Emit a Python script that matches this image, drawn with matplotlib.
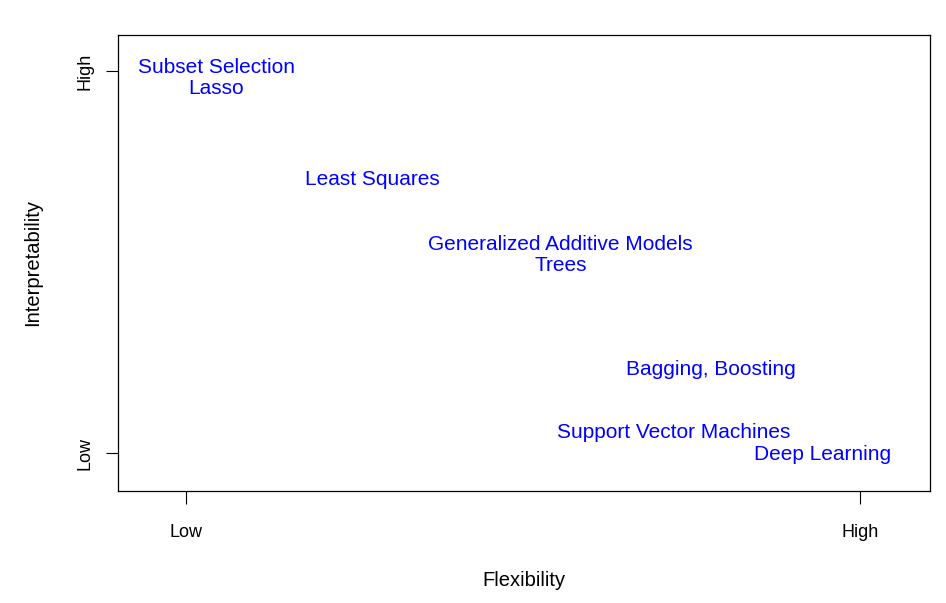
import matplotlib
matplotlib.use('Agg')
import matplotlib.pyplot as plt

plt.rcParams['font.family'] = ['Liberation Sans', 'DejaVu Sans']

# Métodos y su posición (flexibilidad, interpretabilidad)
metodos = ['Subset Selection', 'Lasso', 'Least Squares',
           'Generalized Additive Models', 'Trees', 'Bagging, Boosting',
           'Support Vector Machines', 'Deep Learning']
flexibilidad = [0.45, 0.45, 2.77, 5.55, 5.56, 7.79, 7.23, 9.45]
interpretabilidad = [10.15, 9.6, 7.2, 5.52, 4.95, 2.23, 0.58, 0.03]

tick_pos = [0, 10]
tick_lbl = ['Low', 'High']

fig = plt.figure(figsize=(9.46, 6.03), dpi=100)
ax = fig.add_axes([118 / 946, 1 - 491 / 603, 812 / 946, 456 / 603])

for m, x, y in zip(metodos, flexibilidad, interpretabilidad):
    ax.text(x, y, m, color='blue', fontsize=15, ha='center', va='center_baseline')

ax.set_xlim(-1.01, 11.04)
ax.set_ylim(-0.99, 10.94)

ax.set_xticks(tick_pos)
ax.set_xticklabels(tick_lbl)
ax.set_yticks(tick_pos)
ax.set_yticklabels(tick_lbl, rotation=90, va='center')
ax.tick_params(axis='x', length=9, width=0.8, pad=14.5, labelsize=13)
ax.tick_params(axis='y', length=9, width=0.8, pad=9, labelsize=13)

for s in ax.spines.values():
    s.set_linewidth(0.9)

ax.set_xlabel('Flexibility', fontsize=14.5)
ax.set_ylabel('Interpretability', fontsize=14.5)
ax.xaxis.set_label_coords(0.5, -(580 - 491) / 456, transform=ax.transAxes)
ax.yaxis.set_label_coords(-(118 - 33) / 812, 0.5, transform=ax.transAxes)
ax.xaxis.label.set_va('center')
ax.yaxis.label.set_va('center')

plt.savefig('out.png', dpi=100)
plt.close()
